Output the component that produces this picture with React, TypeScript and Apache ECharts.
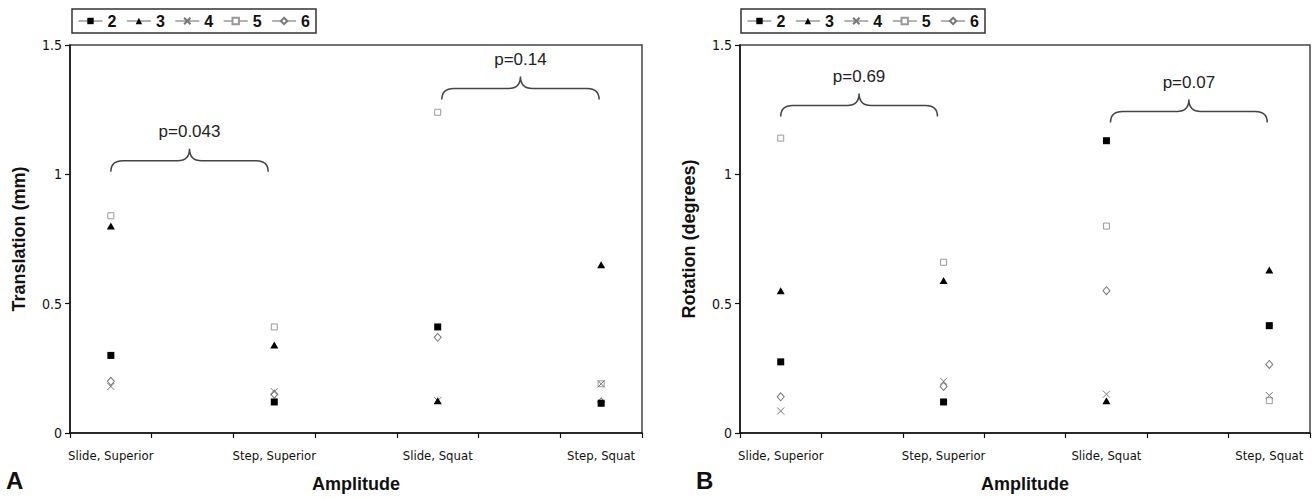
import React, { useEffect, useRef } from "react";
import * as echarts from "echarts";

// ---------- data ----------
const categories = ["Slide, Superior", "Step, Superior", "Slide, Squat", "Step, Squat"];
const seriesNames = ["2", "3", "4", "5", "6"];
const yTicks = [0, 0.5, 1, 1.5];

// Panel A – Translation (mm), one value per category
const transS2 = [0.30, 0.12, 0.41, 0.115];
const transS3 = [0.80, 0.34, 0.125, 0.65];
const transS4 = [0.18, 0.16, 0.125, 0.19];
const transS5 = [0.84, 0.41, 1.24, 0.19];
const transS6 = [0.20, 0.15, 0.37, 0.12];

// Panel B – Rotation (degrees)
const rotS2 = [0.275, 0.12, 1.13, 0.415];
const rotS3 = [0.55, 0.59, 0.125, 0.63];
const rotS4 = [0.085, 0.20, 0.15, 0.145];
const rotS5 = [1.14, 0.66, 0.80, 0.125];
const rotS6 = [0.14, 0.18, 0.55, 0.265];

// Brace annotations (in axis slot units / y values)
const braceAFrom = [1, 9.1];
const braceATo = [4.85, 12.95];
const braceAY = [1.01, 1.289];
const braceALabels = ["p=0.043", "p=0.14"];

const braceBFrom = [1, 9.1];
const braceBTo = [4.85, 12.95];
const braceBY = [1.224, 1.2];
const braceBLabels = ["p=0.69", "p=0.07"];

// ---------- helpers ----------
const SLOTS = 15;
const slotOf = (c: number) => 1 + 4 * c;
const xSlots = Array.from({ length: SLOTS }, (_, k) =>
  (k - 1) % 4 === 0 ? categories[(k - 1) / 4] : ""
);

const NARROW = "'Liberation Sans Narrow', 'Arial Narrow', 'DejaVu Sans Condensed', sans-serif";
const SANS = "'Liberation Sans', Arial, sans-serif";

const symbolStyles: Record<string, any> = {
  "2": { symbol: "rect", symbolSize: 7, itemStyle: { color: "#000" } },
  "3": { symbol: "triangle", symbolSize: [8, 7], itemStyle: { color: "#000" } },
  "4": {
    symbol: "path://M0,0L10,10M10,0L0,10",
    symbolSize: 7,
    itemStyle: { color: "none", borderColor: "#777", borderWidth: 1 },
  },
  "5": {
    symbol: "rect",
    symbolSize: 6,
    itemStyle: { color: "#fff", borderColor: "#999", borderWidth: 1 },
  },
  "6": {
    symbol: "diamond",
    symbolSize: [7, 8],
    itemStyle: { color: "#fff", borderColor: "#777", borderWidth: 1 },
  },
};

function makeSeries(values: number[][], gi: number) {
  return seriesNames.map((name, i) => ({
    type: "line",
    name,
    xAxisIndex: gi,
    yAxisIndex: gi,
    data: values[i].map((v, c) => [slotOf(c), v]),
    ...symbolStyles[name],
    showSymbol: true,
    showAllSymbol: true,
    lineStyle: { opacity: 0, width: 0 },
    silent: true,
    emphasis: { disabled: true },
    z: 3 + (4 - i),
  }));
}

function makeBrace(from: number[], to: number[], ys: number[], labels: string[], gi: number) {
  return {
    type: "custom",
    xAxisIndex: gi,
    yAxisIndex: gi,
    silent: true,
    clip: false,
    encode: { x: 0, y: 2 },
    data: from.map((f, i) => [f, to[i], ys[i]]),
    renderItem: (params: any, api: any) => {
      const s1 = api.value(0);
      const s2 = api.value(1);
      const yv = api.value(2);
      const a = api.coord([0, yv]);
      const b = api.coord([SLOTS - 1, yv]);
      const px = (s: number) => a[0] + ((b[0] - a[0]) * s) / (SLOTS - 1);
      const x1 = px(s1);
      const x2 = px(s2);
      const xm = (x1 + x2) / 2;
      const ye = a[1];
      const yh = ye - 11;
      const yt = yh - 12;
      const r = 12;
      const d =
        `M${x1},${ye} Q${x1},${yh} ${x1 + r},${yh} L${xm - r},${yh} ` +
        `Q${xm},${yh} ${xm},${yt} Q${xm},${yh} ${xm + r},${yh} ` +
        `L${x2 - r},${yh} Q${x2},${yh} ${x2},${ye}`;
      return {
        type: "group",
        children: [
          {
            type: "path",
            shape: { pathData: d },
            style: { fill: "none", stroke: "#444", lineWidth: 1.5 },
          },
          {
            type: "text",
            x: xm,
            y: yt - 17,
            style: {
              text: labels[params.dataIndex],
              fill: "#222",
              font: `17px ${SANS}`,
              align: "center",
              verticalAlign: "middle",
            },
          },
        ],
      };
    },
  };
}

function xAxisFor(gi: number) {
  return {
    type: "category",
    gridIndex: gi,
    data: xSlots,
    boundaryGap: false,
    name: "Amplitude",
    nameLocation: "middle",
    nameGap: 42,
    nameTextStyle: { fontFamily: SANS, fontWeight: "bold", fontSize: 18, color: "#111" },
    axisLine: { lineStyle: { color: "#111", width: 1.5 } },
    axisTick: { show: true, interval: 1, length: 5, lineStyle: { color: "#111", width: 1.2 } },
    axisLabel: { interval: 0, margin: 16, fontFamily: NARROW, fontSize: 13, color: "#111" },
    splitLine: { show: false },
  };
}

function yAxisFor(gi: number, name: string) {
  return {
    type: "value",
    gridIndex: gi,
    min: yTicks[0],
    max: yTicks[yTicks.length - 1],
    interval: yTicks[1] - yTicks[0],
    name,
    nameLocation: "middle",
    nameGap: 42,
    nameTextStyle: { fontFamily: SANS, fontWeight: "bold", fontSize: 18, color: "#111" },
    axisLine: { show: true, lineStyle: { color: "#111", width: 1.5 } },
    axisTick: { show: true, length: 5, lineStyle: { color: "#111", width: 1.2 } },
    axisLabel: {
      margin: 8,
      fontFamily: NARROW,
      fontSize: 14,
      color: "#111",
      formatter: (v: number) => String(v),
    },
    splitLine: { show: false },
  };
}

function legendFor(left: number) {
  return {
    left,
    top: 9,
    orient: "horizontal",
    data: seriesNames,
    selectedMode: false,
    itemWidth: 24,
    itemHeight: 8,
    itemGap: 10,
    padding: [4, 6, 4, 6],
    borderColor: "#333",
    borderWidth: 1.5,
    textStyle: { fontFamily: SANS, fontWeight: "bold", fontSize: 16, color: "#111" },
    lineStyle: { color: "#666", width: 1, opacity: 1 },
  };
}

export default function App() {
  const ref = useRef<HTMLDivElement>(null);

  useEffect(() => {
    document.body.style.margin = "0";
    if (!ref.current) return;
    const chart = echarts.init(ref.current, undefined, { renderer: "svg" });
    const option: any = {
      animation: false,
      backgroundColor: "#fff",
      grid: [
        { left: 70, top: 45, width: 572, height: 394, show: true, borderColor: "#444", borderWidth: 1.5 },
        { left: 740, top: 45, width: 570, height: 394, show: true, borderColor: "#444", borderWidth: 1.5 },
      ],
      xAxis: [xAxisFor(0), xAxisFor(1)],
      yAxis: [yAxisFor(0, "Translation (mm)"), yAxisFor(1, "Rotation (degrees)")],
      legend: [legendFor(72), legendFor(741)],
      series: [
        ...makeSeries([transS2, transS3, transS4, transS5, transS6], 0),
        ...makeSeries([rotS2, rotS3, rotS4, rotS5, rotS6], 1),
        makeBrace(braceAFrom, braceATo, braceAY, braceALabels, 0),
        makeBrace(braceBFrom, braceBTo, braceBY, braceBLabels, 1),
      ],
      graphic: [
        {
          type: "text",
          left: 6,
          top: 468,
          style: { text: "A", font: `bold 24px ${SANS}`, fill: "#111" },
        },
        {
          type: "text",
          left: 696,
          top: 468,
          style: { text: "B", font: `bold 24px ${SANS}`, fill: "#111" },
        },
      ],
    };
    chart.setOption(option);
    return () => chart.dispose();
  }, []);

  return <div ref={ref} style={{ width: 1313, height: 498 }} />;
}
